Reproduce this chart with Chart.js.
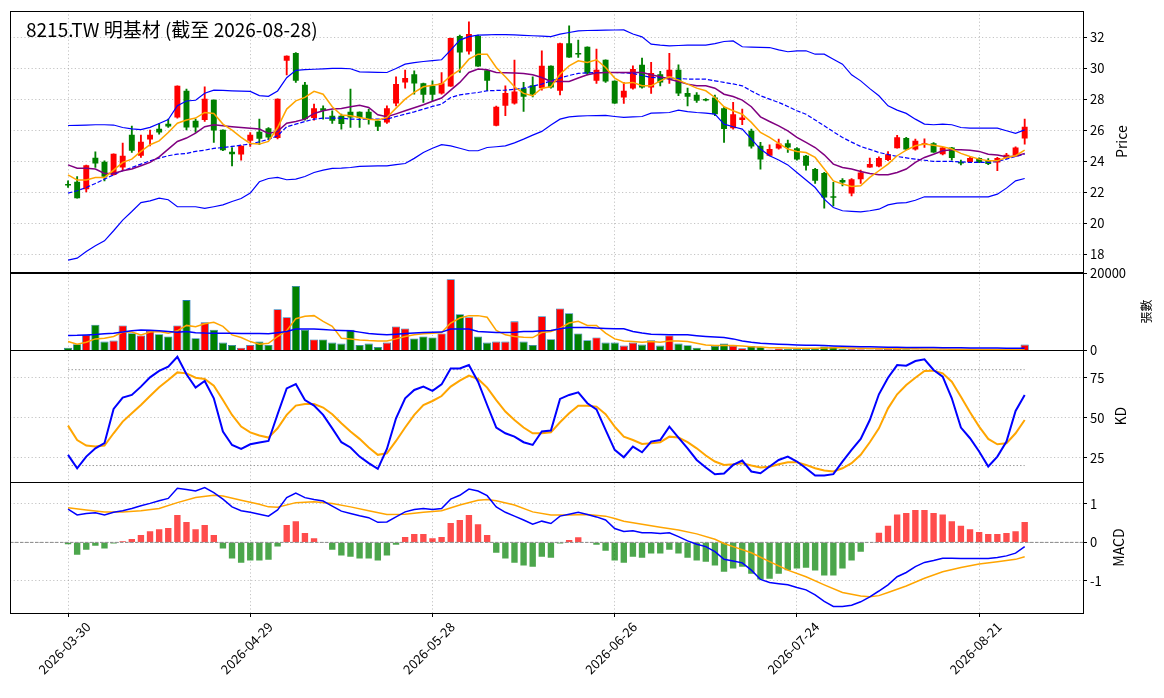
<!DOCTYPE html>
<html>
<head>
<meta charset="utf-8">
<script src="https://cdn.jsdelivr.net/npm/chart.js@4.4.1/dist/chart.umd.min.js"></script>
<style>
  html, body { margin: 0; padding: 0; background: #fff; }
  #c { display: block; }
</style>
</head>
<body>
<canvas id="c" width="1164" height="698" style="width:1164px;height:698px"></canvas>
<script>
// 8215.TW daily data, one entry per trading day (index 0 = 2026-03-30)
const tickIdx = [0, 20, 40, 60, 80, 100];
const tickLabels = ['2026-03-30', '2026-04-29', '2026-05-28', '2026-06-26', '2026-07-24', '2026-08-21'];

const opens = [
  22.50, 22.69, 22.21, 24.24, 23.98, 23.12, 23.61, 25.72, 24.37, 25.42,
  26.11, 26.43, 26.84, 28.56, 26.62, 26.67, 27.98, 26.04, 24.62, 24.45,
  25.33, 25.91, 26.15, 25.51, 30.49, 30.99, 28.95, 26.80, 27.44, 26.95,
  26.95, 27.20, 27.20, 27.20, 26.62, 26.52, 27.74, 29.10, 29.63, 29.05,
  28.88, 28.39, 28.84, 32.10, 31.10, 32.10, 29.89, 26.30, 27.59, 27.74,
  28.73, 28.92, 28.73, 30.17, 28.56, 31.63, 30.97, 31.40, 29.20, 30.56,
  29.20, 28.13, 28.71, 30.24, 28.77, 29.63, 29.46, 29.91, 28.41, 28.30,
  27.98, 28.13, 27.44, 26.15, 26.67, 25.98, 25.01, 24.37, 24.84, 25.18,
  24.86, 24.37, 23.51, 23.25, 21.70, 22.80, 21.94, 22.86, 23.61, 23.68,
  24.09, 24.86, 25.51, 24.77, 25.08, 25.18, 24.47, 24.90, 23.94, 23.96,
  24.22, 24.04, 23.94, 24.22, 24.37, 25.48
];
const highs = [
  22.75, 23.03, 23.76, 24.62, 24.04, 24.49, 25.18, 26.28, 25.70, 26.02,
  26.45, 26.73, 28.88, 28.67, 26.73, 28.82, 27.98, 26.04, 24.90, 25.01,
  25.87, 26.73, 26.19, 28.04, 30.82, 31.03, 29.10, 27.70, 27.59, 27.27,
  27.05, 28.67, 27.20, 27.38, 26.62, 27.59, 29.46, 29.89, 29.85, 29.05,
  29.20, 29.74, 31.96, 32.15, 33.01, 32.15, 29.89, 27.57, 28.88, 30.54,
  29.10, 29.46, 31.14, 30.17, 31.63, 32.75, 31.83, 31.40, 31.25, 30.56,
  29.20, 29.10, 30.17, 30.67, 30.39, 29.81, 30.97, 30.24, 28.73, 28.45,
  28.05, 28.28, 27.50, 27.81, 27.38, 26.09, 25.23, 25.08, 25.44, 25.38,
  24.90, 24.40, 23.55, 23.30, 22.65, 22.90, 22.90, 23.44, 24.22, 24.30,
  24.64, 25.68, 25.55, 25.44, 25.46, 25.22, 24.92, 24.92, 24.09, 24.26,
  24.24, 24.19, 24.26, 24.52, 24.94, 26.73
];
const lows = [
  22.32, 21.63, 22.04, 23.61, 22.75, 23.12, 23.40, 24.58, 24.26, 25.01,
  25.76, 26.19, 26.80, 26.04, 25.87, 26.58, 25.23, 24.69, 23.72, 24.08,
  24.97, 25.08, 25.44, 25.46, 29.59, 29.10, 26.67, 26.67, 26.73, 26.45,
  26.09, 26.19, 26.19, 26.41, 25.98, 26.45, 27.59, 28.73, 28.34, 27.81,
  27.91, 28.34, 28.84, 29.74, 30.92, 30.13, 28.56, 26.30, 26.95, 27.70,
  27.23, 28.17, 28.60, 28.73, 28.30, 30.71, 30.71, 29.59, 29.03, 29.10,
  27.74, 27.74, 28.67, 28.73, 28.39, 28.88, 29.03, 28.24, 27.59, 27.81,
  27.90, 26.95, 25.23, 26.09, 26.37, 24.86, 23.51, 24.35, 24.80, 24.58,
  24.09, 23.44, 22.58, 20.99, 21.14, 22.43, 21.78, 22.58, 23.61, 23.65,
  24.05, 24.86, 24.75, 24.73, 24.90, 24.58, 24.43, 24.09, 23.78, 23.94,
  23.92, 23.79, 23.40, 24.18, 24.35, 25.12
];
const closes = [
  22.45, 21.63, 23.76, 23.87, 23.01, 24.49, 24.37, 24.69, 25.27, 25.72,
  25.87, 26.26, 28.88, 26.19, 26.19, 28.04, 26.00, 24.73, 24.47, 25.01,
  25.72, 25.46, 25.55, 28.04, 30.82, 29.20, 26.73, 27.44, 27.27, 26.62,
  26.41, 26.84, 26.80, 26.73, 26.24, 27.44, 28.99, 29.38, 29.03, 28.30,
  28.30, 29.05, 31.96, 31.03, 32.22, 30.13, 29.20, 27.53, 28.41, 28.52,
  28.17, 28.30, 30.17, 28.77, 31.63, 30.71, 30.90, 29.68, 29.91, 29.16,
  27.74, 28.56, 29.96, 28.77, 29.70, 29.10, 29.91, 28.39, 28.17, 27.91,
  27.94, 27.05, 26.09, 27.05, 26.84, 24.97, 24.13, 24.80, 25.16, 24.90,
  24.13, 23.72, 22.75, 21.68, 21.66, 22.65, 22.86, 23.29, 23.83, 24.22,
  24.47, 25.57, 24.77, 25.33, 25.18, 24.58, 24.90, 24.22, 23.87, 24.22,
  23.94, 23.83, 24.22, 24.43, 24.90, 26.24
];

const ma5 = [
  23.14, 22.80, 22.80, 22.97, 22.97, 23.44, 23.94, 24.15, 24.65, 25.08,
  25.33, 25.87, 26.47, 26.67, 26.80, 27.16, 27.10, 26.41, 26.02, 25.55,
  25.16, 25.12, 25.29, 26.19, 27.38, 27.91, 28.13, 28.52, 28.34, 27.53,
  26.99, 26.95, 26.84, 26.73, 26.67, 26.84, 27.44, 28.02, 28.45, 28.82,
  28.92, 28.99, 29.53, 29.91, 30.60, 30.92, 30.92, 30.06, 29.46, 28.82,
  28.39, 28.24, 28.73, 28.82, 29.63, 30.17, 30.49, 30.39, 30.56, 30.06,
  29.38, 29.05, 29.10, 28.88, 28.88, 29.20, 29.46, 29.25, 28.99, 28.73,
  28.56, 28.13, 27.53, 27.27, 27.05, 26.52, 25.87, 25.55, 25.16, 24.80,
  24.65, 24.58, 24.26, 23.51, 22.75, 22.54, 22.39, 22.43, 22.97, 23.40,
  23.83, 24.37, 24.73, 25.01, 25.12, 25.05, 24.95, 24.80, 24.52, 24.32,
  24.15, 24.04, 24.04, 24.26, 24.37, 24.73
];
const ma10 = [
  23.78, 23.57, 23.57, 23.51, 23.23, 23.23, 23.40, 23.51, 23.72, 23.94,
  24.30, 24.80, 25.29, 25.51, 25.83, 26.24, 26.37, 26.30, 26.24, 26.19,
  26.15, 26.09, 25.81, 25.94, 26.47, 26.58, 26.73, 27.10, 27.27, 27.38,
  27.42, 27.53, 27.63, 27.48, 27.01, 26.88, 27.07, 27.27, 27.46, 27.66,
  27.88, 28.09, 28.60, 29.10, 29.74, 29.96, 29.91, 29.74, 29.72, 29.70,
  29.68, 29.59, 29.42, 29.16, 29.16, 29.16, 29.38, 29.59, 29.70, 29.74,
  29.74, 29.74, 29.74, 29.74, 29.59, 29.46, 29.31, 29.16, 28.99, 28.88,
  28.88, 28.73, 28.34, 28.19, 27.96, 27.53, 26.88, 26.58, 26.30, 25.98,
  25.55, 25.23, 24.90, 24.43, 23.83, 23.61, 23.51, 23.35, 23.23, 23.14,
  23.14, 23.29, 23.51, 23.94, 24.26, 24.47, 24.69, 24.75, 24.75, 24.73,
  24.65, 24.47, 24.41, 24.30, 24.34, 24.52
];
const bbMid = [
  21.96, 22.11, 22.32, 22.58, 22.86, 23.14, 23.40, 23.61, 23.83, 24.04,
  24.22, 24.37, 24.47, 24.52, 24.65, 24.73, 24.84, 24.90, 24.97, 25.05,
  25.12, 25.27, 25.42, 25.66, 26.24, 26.41, 26.58, 26.73, 26.80, 26.80,
  26.80, 26.73, 26.72, 26.73, 26.73, 26.73, 26.90, 27.05, 27.20, 27.38,
  27.55, 27.70, 28.13, 28.30, 28.38, 28.45, 28.56, 28.58, 28.60, 28.66,
  28.73, 28.86, 28.99, 29.20, 29.38, 29.55, 29.68, 29.72, 29.74, 29.74,
  29.74, 29.72, 29.68, 29.55, 29.42, 29.40, 29.38, 29.35, 29.32, 29.31,
  29.31, 29.20, 29.10, 29.00, 28.88, 28.55, 28.24, 28.02, 27.81, 27.55,
  27.27, 27.05, 26.68, 26.30, 25.92, 25.55, 25.25, 24.97, 24.78, 24.58,
  24.45, 24.32, 24.23, 24.15, 24.08, 24.00, 24.00, 24.00, 23.97, 23.94,
  23.94, 23.94, 24.00, 24.15, 24.32, 24.47
];
const bbUp = [
  26.32, 26.33, 26.35, 26.37, 26.37, 26.35, 26.19, 26.10, 26.05, 26.20,
  26.45, 26.70, 27.60, 27.90, 27.95, 28.40, 28.60, 28.58, 28.56, 28.54,
  28.52, 28.25, 28.20, 28.55, 29.40, 29.88, 29.92, 29.95, 29.97, 30.00,
  30.00, 29.98, 29.78, 29.76, 29.75, 29.74, 30.00, 30.28, 30.38, 30.45,
  30.50, 30.56, 31.18, 31.83, 32.05, 32.15, 32.17, 32.19, 32.18, 32.17,
  32.14, 32.11, 32.08, 32.06, 32.22, 32.32, 32.43, 32.45, 32.46, 32.47,
  32.48, 32.49, 32.22, 32.04, 31.57, 31.50, 31.46, 31.48, 31.50, 31.51,
  31.51, 31.60, 31.74, 31.78, 31.40, 31.38, 31.36, 31.35, 31.20, 31.08,
  31.14, 31.14, 30.92, 30.92, 30.60, 30.28, 29.59, 29.20, 28.70, 28.24,
  27.59, 27.31, 27.10, 26.73, 26.41, 26.37, 26.41, 26.37, 26.19, 26.15,
  26.15, 26.15, 26.15, 25.98, 25.81, 26.04
];
const bbLow = [
  17.63, 17.76, 18.19, 18.56, 18.88, 19.53, 20.22, 20.77, 21.35, 21.46,
  21.63, 21.53, 21.08, 21.08, 21.08, 20.97, 21.08, 21.20, 21.42, 21.61,
  21.96, 22.69, 22.90, 22.97, 22.82, 22.86, 23.03, 23.29, 23.44, 23.55,
  23.57, 23.61, 23.68, 23.70, 23.71, 23.72, 23.80, 23.87, 24.20, 24.58,
  24.85, 25.08, 25.01, 24.85, 24.69, 24.69, 24.90, 24.95, 25.01, 25.20,
  25.44, 25.70, 25.94, 26.35, 26.73, 26.88, 26.92, 26.95, 26.96, 26.97,
  26.90, 26.84, 26.88, 26.90, 27.12, 27.14, 27.16, 27.31, 27.22, 27.16,
  27.12, 27.05, 26.41, 26.24, 26.09, 25.44, 24.80, 24.37, 24.09, 23.78,
  23.29, 22.80, 22.32, 21.57, 21.03, 20.82, 20.78, 20.75, 20.82, 20.92,
  21.20, 21.31, 21.35, 21.50, 21.72, 21.72, 21.72, 21.72, 21.72, 21.72,
  21.72, 21.72, 21.89, 22.28, 22.75, 22.90
];

const volume = [
  700, 1580, 4030, 6660, 2280, 2540, 6490, 4470, 3860, 5090,
  4210, 3600, 6490, 13070, 3160, 7280, 5350, 2020, 1400, 700,
  1400, 2280, 1400, 10700, 8600, 16750, 5350, 2810, 2810, 2020,
  1750, 5350, 1400, 1750, 880, 2020, 6230, 5700, 3070, 3600,
  3330, 4390, 18500, 9380, 8600, 3600, 2020, 2280, 2280, 7540,
  2280, 1400, 8860, 2890, 10870, 9650, 4390, 2630, 3330, 2020,
  2020, 1230, 2020, 1490, 2630, 1230, 3860, 1750, 1320, 700,
  150, 1140, 1750, 1230, 530, 1140, 960, 250, 450, 350,
  400, 350, 500, 1000, 1000, 400, 350, 300, 250, 300,
  350, 400, 300, 250, 200, 250, 200, 250, 150, 200,
  150, 150, 200, 150, 150, 1500
];
const volMa5 = [
  2280, 1580, 2100, 2980, 3160, 3600, 4740, 4740, 4030, 4740,
  4910, 4470, 5090, 6490, 6140, 6930, 7280, 6230, 4030, 3330,
  2280, 1580, 1840, 3600, 5090, 8240, 8860, 9030, 7540, 6230,
  3160, 2980, 2720, 2540, 2460, 2460, 2980, 3600, 4030, 4300,
  4470, 4650, 7100, 8420, 9030, 9030, 8600, 5170, 4030, 3600,
  3420, 3330, 4650, 4910, 5790, 7100, 7540, 6490, 6490, 4470,
  2980, 2460, 2280, 2100, 2280, 2100, 2460, 2460, 2280, 1840,
  1400, 1230, 1230, 1230, 1140, 960, 880, 700, 650, 600,
  550, 520, 550, 600, 650, 650, 600, 550, 500, 450,
  450, 440, 420, 400, 380, 350, 320, 300, 280, 260,
  250, 230, 220, 200, 200, 350
];
const volMa20 = [
  3860, 3900, 4000, 4100, 4300, 4470, 4800, 5090, 5260, 5200,
  5090, 4900, 4740, 4910, 4600, 4500, 4470, 4450, 4420, 4400,
  4390, 4350, 4300, 4600, 4910, 5530, 5530, 5530, 5400, 5260,
  5170, 5090, 4740, 4390, 4200, 4030, 4200, 4390, 4500, 4650,
  4700, 4740, 5530, 5530, 5530, 4910, 4800, 4650, 4650, 4700,
  4910, 4900, 5090, 5170, 5610, 5960, 5960, 5960, 5800, 5700,
  5610, 5610, 4910, 4500, 4210, 4100, 4030, 4030, 4030, 3800,
  3600, 3450, 3330, 2980, 2460, 2100, 1840, 1700, 1580, 1500,
  1400, 1350, 1300, 1230, 1150, 1080, 1020, 960, 920, 880,
  830, 790, 770, 750, 730, 710, 700, 680, 660, 640,
  610, 600, 580, 560, 540, 530
];

const kLine = [
  26.7, 18.3, 25.6, 30.8, 34.0, 55.4, 62.5, 64.2, 69.4, 75.2,
  79.2, 81.9, 88.1, 77.1, 68.8, 72.9, 62.1, 41.3, 32.9, 30.4,
  33.3, 34.4, 35.4, 52.1, 68.3, 71.0, 61.0, 57.5, 51.7, 43.3,
  34.6, 31.3, 25.6, 21.5, 17.9, 30.4, 49.6, 62.1, 67.3, 69.4,
  66.7, 70.8, 80.8, 80.8, 82.9, 72.5, 57.9, 43.8, 40.2, 38.1,
  34.6, 32.9, 41.3, 41.9, 61.7, 64.2, 65.8, 59.0, 55.2, 42.3,
  29.8, 25.2, 31.9, 28.3, 35.0, 36.0, 44.4, 37.5, 30.8, 23.5,
  18.8, 14.6, 15.0, 20.4, 23.1, 16.3, 15.2, 19.4, 23.5, 25.6,
  22.5, 18.3, 13.8, 13.8, 14.6, 22.5, 29.8, 36.7, 48.5, 64.6,
  75.0, 82.9, 82.5, 85.4, 86.5, 79.8, 75.6, 62.1, 43.8, 37.1,
  28.8, 19.4, 25.6, 35.0, 54.2, 64.2
];
const dLine = [
  45.0, 36.0, 32.5, 31.9, 32.5, 40.2, 47.5, 52.7, 57.9, 63.5,
  69.0, 73.5, 78.3, 77.7, 75.0, 74.2, 70.0, 61.0, 51.7, 44.4,
  40.8, 38.8, 37.5, 43.3, 51.7, 57.5, 58.5, 58.5, 56.3, 52.1,
  46.5, 41.3, 36.7, 31.3, 26.7, 27.7, 35.4, 43.8, 51.7, 57.9,
  60.4, 63.5, 69.4, 73.1, 76.3, 74.2, 68.8, 61.0, 53.8, 48.5,
  43.8, 40.2, 40.2, 40.8, 47.1, 52.7, 57.5, 57.5, 56.9, 52.1,
  44.4, 38.1, 36.0, 33.5, 34.0, 34.6, 38.1, 37.5, 34.6, 30.8,
  26.3, 22.5, 20.4, 20.8, 21.5, 20.0, 18.8, 19.2, 20.8, 22.1,
  22.1, 20.4, 18.3, 16.9, 16.3, 18.3, 21.5, 26.7, 34.6, 43.3,
  55.8, 64.6, 70.4, 75.0, 79.2, 79.4, 77.7, 72.5, 63.1, 53.3,
  44.4, 36.7, 33.3, 34.0, 40.2, 48.5
];

const macdHist = [
  -0.05, -0.32, -0.19, -0.09, -0.16, -0.03, 0.03, 0.09, 0.19, 0.29,
  0.34, 0.37, 0.71, 0.53, 0.34, 0.45, 0.19, -0.16, -0.42, -0.53,
  -0.47, -0.47, -0.45, -0.11, 0.45, 0.55, 0.24, 0.11, -0.01, -0.19,
  -0.34, -0.37, -0.42, -0.42, -0.47, -0.34, -0.06, 0.14, 0.22, 0.22,
  0.11, 0.14, 0.50, 0.58, 0.71, 0.47, 0.19, -0.27, -0.42, -0.53,
  -0.60, -0.63, -0.37, -0.40, -0.03, 0.06, 0.13, -0.01, -0.06, -0.22,
  -0.47, -0.53, -0.37, -0.40, -0.29, -0.29, -0.19, -0.29, -0.40, -0.47,
  -0.50, -0.60, -0.76, -0.68, -0.63, -0.81, -0.96, -0.94, -0.81, -0.72,
  -0.68, -0.66, -0.73, -0.86, -0.86, -0.68, -0.47, -0.24, 0.01, 0.25,
  0.43, 0.72, 0.76, 0.84, 0.84, 0.76, 0.72, 0.55, 0.43, 0.34,
  0.27, 0.22, 0.22, 0.24, 0.29, 0.53
];
const macdLine = [
  0.86, 0.71, 0.75, 0.77, 0.71, 0.78, 0.82, 0.88, 0.95, 1.01,
  1.08, 1.14, 1.40, 1.37, 1.33, 1.42, 1.29, 1.12, 0.92, 0.82,
  0.78, 0.73, 0.68, 0.84, 1.16, 1.28, 1.16, 1.11, 1.07, 0.94,
  0.81, 0.75, 0.69, 0.64, 0.52, 0.53, 0.66, 0.79, 0.85, 0.88,
  0.85, 0.88, 1.12, 1.22, 1.38, 1.33, 1.21, 0.92, 0.78, 0.68,
  0.58, 0.47, 0.55, 0.49, 0.68, 0.73, 0.78, 0.72, 0.66, 0.58,
  0.36, 0.28, 0.30, 0.25, 0.25, 0.23, 0.25, 0.15, 0.04, -0.05,
  -0.11, -0.24, -0.44, -0.48, -0.53, -0.72, -0.96, -1.04, -1.07, -1.10,
  -1.17, -1.23, -1.36, -1.53, -1.66, -1.66, -1.63, -1.54, -1.41, -1.26,
  -1.10, -0.89, -0.78, -0.63, -0.52, -0.47, -0.41, -0.41, -0.42, -0.42,
  -0.42, -0.42, -0.39, -0.35, -0.28, -0.11
];
// signal line, read where it could be made out (null = not read)
const signalLine = [
  0.90, null, 0.84, null, 0.79, null, 0.79, null, 0.82, null,
  0.88, null, 1.03, null, 1.16, null, 1.22, 1.20, null, 1.09,
  null, 0.99, 0.92, 0.91, null, 1.03, null, 1.05, null, 1.01,
  null, 0.92, null, 0.82, null, 0.72, null, 0.73, null, 0.78,
  null, 0.82, null, 0.97, null, 1.09, 1.11, 1.08, null, 0.97,
  null, 0.79, null, 0.71, null, 0.71, null, 0.72, null, 0.68,
  0.62, 0.55, null, 0.47, null, 0.39, null, 0.32, null, 0.22,
  null, 0.08, -0.03, -0.11, null, -0.27, null, -0.50, null, -0.72,
  null, -0.89, null, -1.10, null, -1.30, null, -1.39, -1.41, -1.38,
  -1.30, null, -1.13, null, -0.93, null, -0.76, null, -0.65, null,
  -0.56, null, -0.50, null, -0.44, -0.37
];

const priceTicks = [18, 20, 22, 24, 26, 28, 30, 32];
const volTicks = [0, 20000];
const kdTicks = [25, 50, 75];
const macdTicks = [-1, 0, 1];
const kdLevels = [80, 20];

const X_MIN = -6.37, X_MAX = 111.4;
const FONT = '"Noto Sans CJK TC", "DejaVu Sans", sans-serif';

const pts = arr => arr.map((y, x) => ({ x, y }));
const isUp = i => closes[i] >= opens[i];
const upDown = ctx => isUp(ctx.dataIndex) ? '#ff0000' : '#008000';

function line(data, yAxisID, color, width, extra = {}) {
  return Object.assign({
    type: 'line', data, yAxisID, borderColor: color, borderWidth: width,
    pointRadius: 0, fill: false, tension: 0, order: 0, spanGaps: true
  }, extra);
}

function yAxis(weight, min, max, ticks) {
  return {
    type: 'linear', position: 'right', stack: 'panels', stackWeight: weight,
    min, max,
    afterBuildTicks: s => { s.ticks = ticks.map(v => ({ value: v })); },
    afterFit: s => { s.width = 81; },
    ticks: {
      color: '#000', font: { family: FONT, size: 13 }, padding: 3, autoSkip: false,
      callback: v => String(v)
    },
    grid: { color: 'rgba(120,120,120,0.55)', lineWidth: 0.8, tickColor: '#000', tickLength: 4, tickWidth: 1 },
    border: { display: false, dash: [1.2, 2.4] }
  };
}

const panelTitles = [
  { axis: 'yPrice', text: 'Price', dx: 39, size: 14 },
  { axis: 'yVol', text: '張數', dx: 63, size: 12 },
  { axis: 'yKd', text: 'KD', dx: 38, size: 14 },
  { axis: 'yMacd', text: 'MACD', dx: 36, size: 14 }
];

const framePlugin = {
  id: 'frames',
  afterDraw(chart) {
    const { ctx, chartArea: a } = chart;
    ctx.save();
    ctx.strokeStyle = '#000';
    ctx.lineWidth = 1;
    panelTitles.forEach(p => {
      const s = chart.scales[p.axis];
      ctx.strokeRect(Math.round(a.left) + 0.5, Math.round(s.top) + 0.5,
        Math.round(a.right - a.left), Math.round(s.bottom - s.top));
    });
    ctx.fillStyle = '#000';
    ctx.textAlign = 'center';
    ctx.textBaseline = 'middle';
    panelTitles.forEach(p => {
      const s = chart.scales[p.axis];
      ctx.save();
      ctx.translate(a.right + p.dx, (s.top + s.bottom) / 2);
      ctx.rotate(-Math.PI / 2);
      ctx.font = `${p.size}px ${FONT}`;
      ctx.fillText(p.text, 0, 0);
      ctx.restore();
    });
    ctx.textAlign = 'left';
    ctx.textBaseline = 'alphabetic';
    ctx.font = `19px ${FONT}`;
    ctx.fillText('8215.TW 明基材 (截至 2026-08-28)', 26, 37);
    ctx.restore();
  }
};

new Chart(document.getElementById('c'), {
  data: {
    datasets: [
      // price panel
      line(pts(ma5), 'yPrice', '#ffa500', 1.5),
      line(pts(ma10), 'yPrice', '#800080', 1.5),
      line(pts(bbUp), 'yPrice', '#0000ff', 1.2),
      line(pts(bbLow), 'yPrice', '#0000ff', 1.2),
      line(pts(bbMid), 'yPrice', '#0000ff', 1.2, { borderDash: [4.4, 1.9] }),
      {
        type: 'bar', yAxisID: 'yPrice', order: 1, grouped: false,
        data: opens.map((o, i) => ({ x: i, y: [o, closes[i]] })),
        backgroundColor: upDown, borderWidth: 0,
        categoryPercentage: 1, barPercentage: 0.65, minBarLength: 1.5
      },
      {
        type: 'bar', yAxisID: 'yPrice', order: 2, grouped: false,
        data: lows.map((l, i) => ({ x: i, y: [l, highs[i]] })),
        backgroundColor: upDown, borderWidth: 0,
        categoryPercentage: 1, barPercentage: 1, maxBarThickness: 1.2
      },
      // volume panel
      line(pts(volMa20), 'yVol', '#0000ff', 1.5),
      line(pts(volMa5), 'yVol', '#ffa500', 1.5),
      {
        type: 'bar', yAxisID: 'yVol', order: 3, grouped: false,
        data: pts(volume),
        backgroundColor: upDown, borderColor: '#1f77b4', borderWidth: 0.8,
        categoryPercentage: 1, barPercentage: 0.9
      },
      // KD panel
      line(pts(kLine), 'yKd', '#0000ff', 2),
      line(pts(dLine), 'yKd', '#ffa500', 2),
      line([{ x: 0, y: kdLevels[0] }, { x: 105, y: kdLevels[0] }], 'yKd', '#999999', 1, { borderDash: [1.5, 2], order: 1 }),
      line([{ x: 0, y: kdLevels[1] }, { x: 105, y: kdLevels[1] }], 'yKd', '#999999', 1, { borderDash: [1.5, 2], order: 1 }),
      // MACD panel
      line(pts(macdLine), 'yMacd', '#0000ff', 1.5),
      line(pts(signalLine), 'yMacd', '#ffa500', 1.5),
      line([{ x: X_MIN, y: 0 }, { x: X_MAX, y: 0 }], 'yMacd', '#888888', 1, { borderDash: [3.5, 1.5], order: 1 }),
      {
        type: 'bar', yAxisID: 'yMacd', order: 2, grouped: false,
        data: pts(macdHist),
        backgroundColor: ctx => macdHist[ctx.dataIndex] >= 0 ? 'rgba(255,0,0,0.7)' : 'rgba(0,128,0,0.7)',
        borderWidth: 0, categoryPercentage: 1, barPercentage: 0.7
      }
    ]
  },
  options: {
    responsive: false,
    animation: false,
    events: [],
    layout: { padding: { left: 10, top: 10, right: 0, bottom: 0 } },
    scales: {
      x: {
        type: 'linear', position: 'bottom', min: X_MIN, max: X_MAX, offset: false,
        afterBuildTicks: s => { s.ticks = tickIdx.map(v => ({ value: v })); },
        afterFit: s => { s.height = 85; },
        ticks: {
          autoSkip: false, minRotation: 45, maxRotation: 45, labelOffset: 20, padding: 2,
          color: '#000', font: { family: FONT, size: 13 },
          callback: v => { const k = tickIdx.indexOf(v); return k >= 0 ? tickLabels[k] : ''; }
        },
        grid: { offset: false, color: 'rgba(120,120,120,0.55)', lineWidth: 0.8, tickColor: '#000', tickLength: 4, tickWidth: 1 },
        border: { display: false, dash: [1.2, 2.4] }
      },
      yPrice: yAxis(262, 16.84, 33.72, priceTicks),
      yVol: yAxis(78, 0, 20260, volTicks),
      yKd: yAxis(132, 9.6, 92.1, kdTicks),
      yMacd: yAxis(131, -1.83, 1.56, macdTicks)
    },
    plugins: { legend: { display: false }, tooltip: { enabled: false } }
  },
  plugins: [framePlugin]
});
</script>
</body>
</html>
